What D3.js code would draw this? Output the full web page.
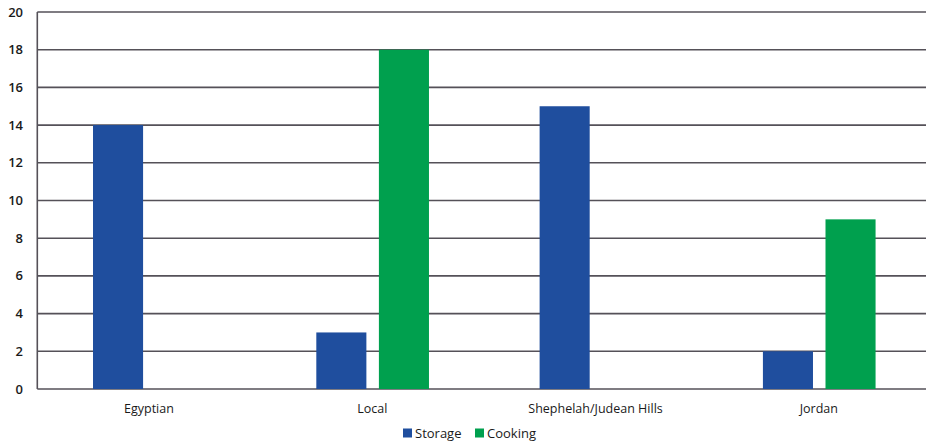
<!DOCTYPE html>
<html>
<head>
<meta charset="utf-8">
<script src="https://cdn.jsdelivr.net/npm/d3@7/dist/d3.min.js"></script>
<style>
  html, body { margin: 0; padding: 0; background: #fff; }
  svg { display: block; }
  text { font-family: "Open Sans", "Noto Sans", sans-serif; fill: #1a1a1a; }
</style>
</head>
<body>
<svg id="chart" width="926" height="443"></svg>
<script>
const categories = ["Egyptian", "Local", "Shephelah/Judean Hills", "Jordan"];
const seriesNames = ["Storage", "Cooking"];
const storage = [14, 3, 15, 2];
const cooking = [0, 18, 0, 9];
const yTicks = [0, 2, 4, 6, 8, 10, 12, 14, 16, 18, 20];
const colors = { Storage: "#1f4e9e", Cooking: "#00a04e" };

const svg = d3.select("#chart");
const W = 926;
const plotLeft = 37.3, plotRight = 930.5, plotTop = 12, plotBottom = 389;

const x0 = d3.scaleBand().domain(categories).range([plotLeft, plotRight]).padding(0);
const bw = x0.bandwidth();
const x1 = d3.scaleBand().domain(seriesNames)
  .range([bw * 0.2495, bw * 0.754]).paddingInner(0.2);
const y = d3.scaleLinear().domain([0, 20]).range([plotBottom, plotTop]);

// horizontal grid lines
svg.append("g")
  .selectAll("line")
  .data(yTicks)
  .join("line")
  .attr("x1", plotLeft).attr("x2", W)
  .attr("y1", d => y(d)).attr("y2", d => y(d))
  .attr("stroke", "#555158")
  .attr("stroke-width", 1.6);

// left axis line
svg.append("line")
  .attr("x1", plotLeft).attr("x2", plotLeft)
  .attr("y1", plotTop).attr("y2", plotBottom)
  .attr("stroke", "#555158").attr("stroke-width", 1.6);

// y tick labels
svg.append("g")
  .selectAll("text")
  .data(yTicks)
  .join("text")
  .attr("x", 23)
  .attr("y", d => y(d))
  .attr("dy", "0.35em")
  .attr("text-anchor", "end")
  .attr("font-size", 13)
  .attr("font-weight", 600)
  .text(d => d);

// bars
const rows = categories.map((c, i) => ({ cat: c, vals: [
  { key: "Storage", v: storage[i] },
  { key: "Cooking", v: cooking[i] }
]}));

const groups = svg.append("g")
  .selectAll("g")
  .data(rows)
  .join("g")
  .attr("transform", d => `translate(${x0(d.cat)},0)`);

groups.selectAll("rect")
  .data(d => d.vals.filter(e => e.v > 0))
  .join("rect")
  .attr("x", d => x1(d.key))
  .attr("width", x1.bandwidth())
  .attr("y", d => y(d.v))
  .attr("height", d => y(0) - y(d.v))
  .attr("fill", d => colors[d.key]);

// category labels
svg.append("g")
  .selectAll("text")
  .data(categories)
  .join("text")
  .attr("x", d => x0(d) + bw / 2)
  .attr("y", 413)
  .attr("text-anchor", "middle")
  .attr("font-size", 12.5)
  .text(d => d);

// legend
const legend = svg.append("g").attr("transform", "translate(403,433)");
const legendX = [0, 72];
seriesNames.forEach((s, i) => {
  const g = legend.append("g").attr("transform", `translate(${legendX[i]},0)`);
  g.append("rect").attr("x", 0).attr("y", -4.5).attr("width", 9).attr("height", 9)
    .attr("fill", colors[s]);
  g.append("text").attr("x", 12).attr("y", 0).attr("dy", "0.35em")
    .attr("font-size", 13).text(s);
});
</script>
</body>
</html>
